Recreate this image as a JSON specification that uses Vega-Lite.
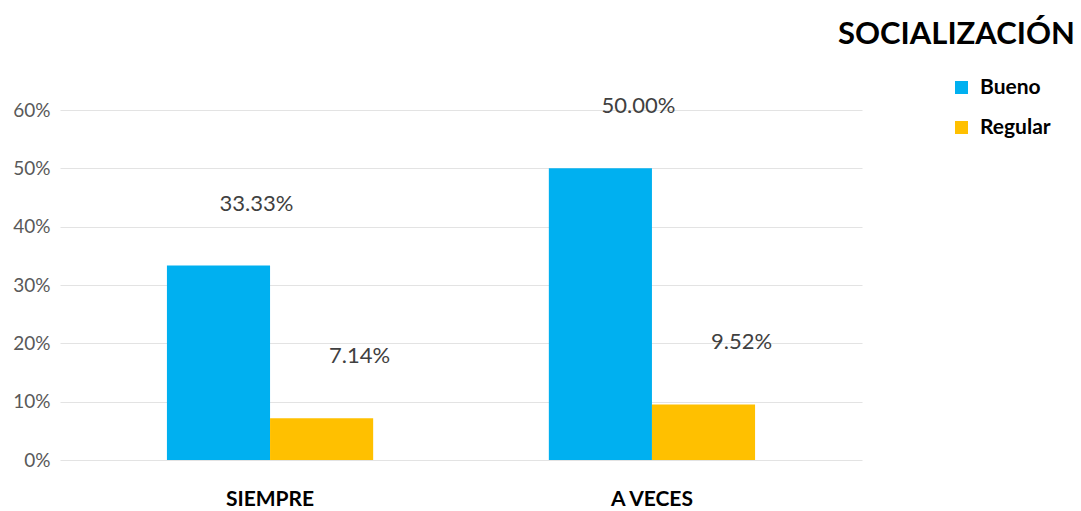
{
  "$schema": "https://vega.github.io/schema/vega-lite/v6.json",
  "width": 802,
  "height": 350,
  "autosize": {"type": "none"},
  "padding": {"left": 60, "top": 110, "right": 219, "bottom": 51},
  "background": "white",
  "view": {"stroke": null},
  "title": {
    "text": "SOCIALIZACIÓN",
    "anchor": "start",
    "frame": "group",
    "dx": 778,
    "offset": 26,
    "font": "Lato",
    "fontSize": 31,
    "fontWeight": "bold",
    "color": "#000000"
  },
  "data": {
    "values": [
      {"Categoria": "SIEMPRE", "Nivel": "Bueno", "valor": 0.3333},
      {"Categoria": "SIEMPRE", "Nivel": "Regular", "valor": 0.0714},
      {"Categoria": "A VECES", "Nivel": "Bueno", "valor": 0.5},
      {"Categoria": "A VECES", "Nivel": "Regular", "valor": 0.0952}
    ]
  },
  "encoding": {
    "x": {
      "field": "Categoria",
      "type": "nominal",
      "sort": ["SIEMPRE", "A VECES"],
      "scale": {"paddingInner": 0.46, "paddingOuter": 0.28},
      "axis": {
        "title": null,
        "labelAngle": 0,
        "labelFont": "Lato",
        "labelFontSize": 21,
        "labelFontWeight": "bold",
        "labelColor": "#000000",
        "labelPadding": 28,
        "domain": false,
        "ticks": false
      }
    },
    "xOffset": {"field": "Nivel", "type": "nominal", "sort": ["Bueno", "Regular"]},
    "y": {
      "field": "valor",
      "type": "quantitative",
      "scale": {"domain": [0, 0.6]},
      "axis": {
        "title": null,
        "format": ".0%",
        "values": [0, 0.1, 0.2, 0.3, 0.4, 0.5, 0.6],
        "labelFont": "Lato",
        "labelFontSize": 19,
        "labelColor": "#595959",
        "labelPadding": 10,
        "domain": false,
        "ticks": false,
        "grid": true,
        "gridColor": "#E3E3E3"
      }
    }
  },
  "layer": [
    {
      "mark": {"type": "bar"},
      "encoding": {
        "color": {
          "field": "Nivel",
          "type": "nominal",
          "sort": ["Bueno", "Regular"],
          "scale": {"domain": ["Bueno", "Regular"], "range": ["#00B0F0", "#FFC000"]},
          "legend": {
            "title": null,
            "orient": "none",
            "legendX": 891,
            "legendY": -33,
            "symbolType": "square",
            "symbolSize": 170,
            "symbolStrokeWidth": 0,
            "labelFont": "Lato",
            "labelFontSize": 21,
            "labelFontWeight": "bold",
            "labelColor": "#000000",
            "rowPadding": 18,
            "labelOffset": 8
          }
        }
      }
    },
    {
      "mark": {
        "type": "text",
        "baseline": "middle",
        "dy": -62,
        "dx": 38,
        "font": "Lato",
        "fontSize": 22,
        "color": "#404040"
      },
      "encoding": {
        "text": {"field": "valor", "type": "quantitative", "format": ".2%"}
      }
    }
  ]
}
